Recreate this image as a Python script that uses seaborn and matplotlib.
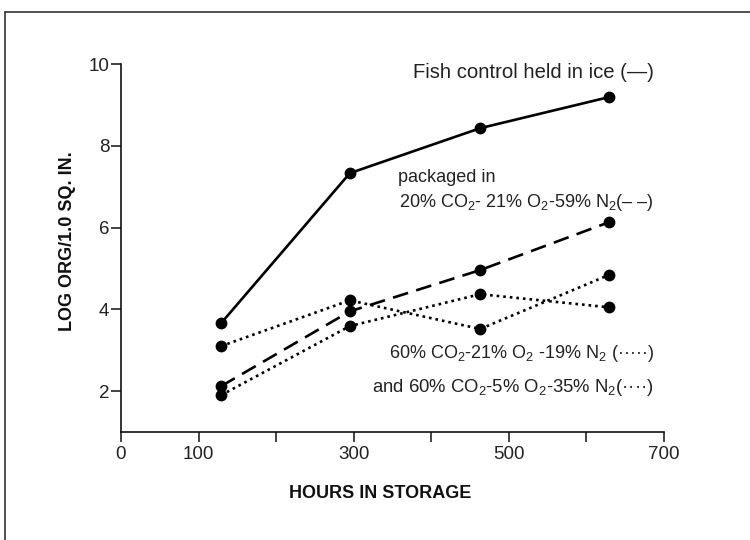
import matplotlib
matplotlib.use("Agg")
import matplotlib.pyplot as plt
from matplotlib.lines import Line2D
import seaborn as sns
import pandas as pd

# ---- data ----
hours = [129, 295, 463, 629]
control_ice = [3.66, 7.33, 8.43, 9.19]
pkg_20co2 = [2.12, 3.95, 4.96, 6.13]
pkg_60co2_21o2 = [3.10, 4.22, 3.52, 4.84]
pkg_60co2_5o2 = [1.90, 3.59, 4.37, 4.05]

series_names = ["control", "20co2", "60co2_21o2", "60co2_5o2"]
series_values = [control_ice, pkg_20co2, pkg_60co2_21o2, pkg_60co2_5o2]

x_major = [0, 100, 300, 500, 700]
x_minor = [200, 400, 600]
y_ticks = [2, 4, 6, 8, 10]

rows = []
for name, vals in zip(series_names, series_values):
    for h, v in zip(hours, vals):
        rows.append({"hours": h, "log": v, "series": name})
df = pd.DataFrame(rows)

sns.set_theme(style="white")
plt.rcParams["font.family"] = ["Liberation Sans", "DejaVu Sans"]
plt.rcParams["mathtext.fontset"] = "custom"
plt.rcParams["mathtext.rm"] = "Liberation Sans"
plt.rcParams["mathtext.it"] = "Liberation Sans"

fig = plt.figure(figsize=(7.5, 5.4), dpi=100)
ax = fig.add_axes([121 / 750, 1 - 432 / 540, 543 / 750, 368 / 540])

dashes = {
    "control": "",
    "20co2": (6, 3.2),
    "60co2_21o2": (1, 1.5),
    "60co2_5o2": (1, 1.5),
}
palette = {n: "black" for n in series_names}
sns.lineplot(
    data=df, x="hours", y="log", hue="series", style="series",
    palette=palette, dashes=dashes, markers={n: "o" for n in series_names},
    markersize=8.5, markeredgewidth=0, linewidth=1.9, legend=False, ax=ax,
)

ax.set_xlim(0, 700)
ax.set_ylim(1, 10)
ax.set_xticks(x_major)
ax.set_xticklabels([str(v) for v in x_major])
ax.set_xticks(x_minor, minor=True)
ax.set_yticks(y_ticks)
ax.set_yticklabels([str(v) for v in y_ticks])
ax.xaxis.get_major_ticks()[0].tick1line.set_visible(False)

for s in ["top", "right"]:
    ax.spines[s].set_visible(False)
for s in ["left", "bottom"]:
    ax.spines[s].set_color("#111111")
    ax.spines[s].set_linewidth(1.2)

ax.tick_params(axis="both", which="both", direction="out", length=7, width=1.1,
               color="#111111", labelsize=13.5, labelcolor="#222222", pad=1.5)
ax.tick_params(axis="x", which="both", bottom=True, pad=3)
ax.tick_params(axis="y", left=True)

ax.set_xlabel("HOURS IN STORAGE", fontsize=13, fontweight="bold", color="#111111")
ax.set_ylabel("LOG ORG/1.0 SQ. IN.", fontsize=13, fontweight="bold", color="#111111")
ax.xaxis.set_label_coords(0.477, -0.143)
ax.yaxis.set_label_coords(-0.083, 0.52)

tfs = 13
tc = "#222222"
R = r"$\mathregular{_2}$"
ax.text(687, 9.78, "Fish control held in ice (\u2014)", ha="right", va="center",
        fontsize=14.6, color=tc)
ax.text(357, 7.23, "packaged in", ha="left", va="center", fontsize=tfs, color=tc)
ax.text(687, 6.62, f"20% CO{R}- 21% O{R}-59% N{R}(\u2013 \u2013)", ha="right",
        va="center", fontsize=tfs, color=tc)
ax.text(687, 2.93, f"60% CO{R}-21% O{R} -19% N{R} (\u00b7\u00b7\u00b7\u00b7\u00b7)",
        ha="right", va="center", fontsize=tfs, color=tc)
ax.text(687, 2.10, f"and 60% CO{R}-5% O{R}-35% N{R}(\u00b7\u00b7\u00b7\u00b7)",
        ha="right", va="center", fontsize=13.3, color=tc)

# frame lines of the printed figure
fig.add_artist(Line2D([5 / 750, 1.0], [1 - 12 / 540, 1 - 12 / 540],
                      transform=fig.transFigure, color="#333333", linewidth=1.2))
fig.add_artist(Line2D([5 / 750, 5 / 750], [0.0, 1 - 12 / 540],
                      transform=fig.transFigure, color="#333333", linewidth=1.2))

fig.savefig("out.png", dpi=100)
